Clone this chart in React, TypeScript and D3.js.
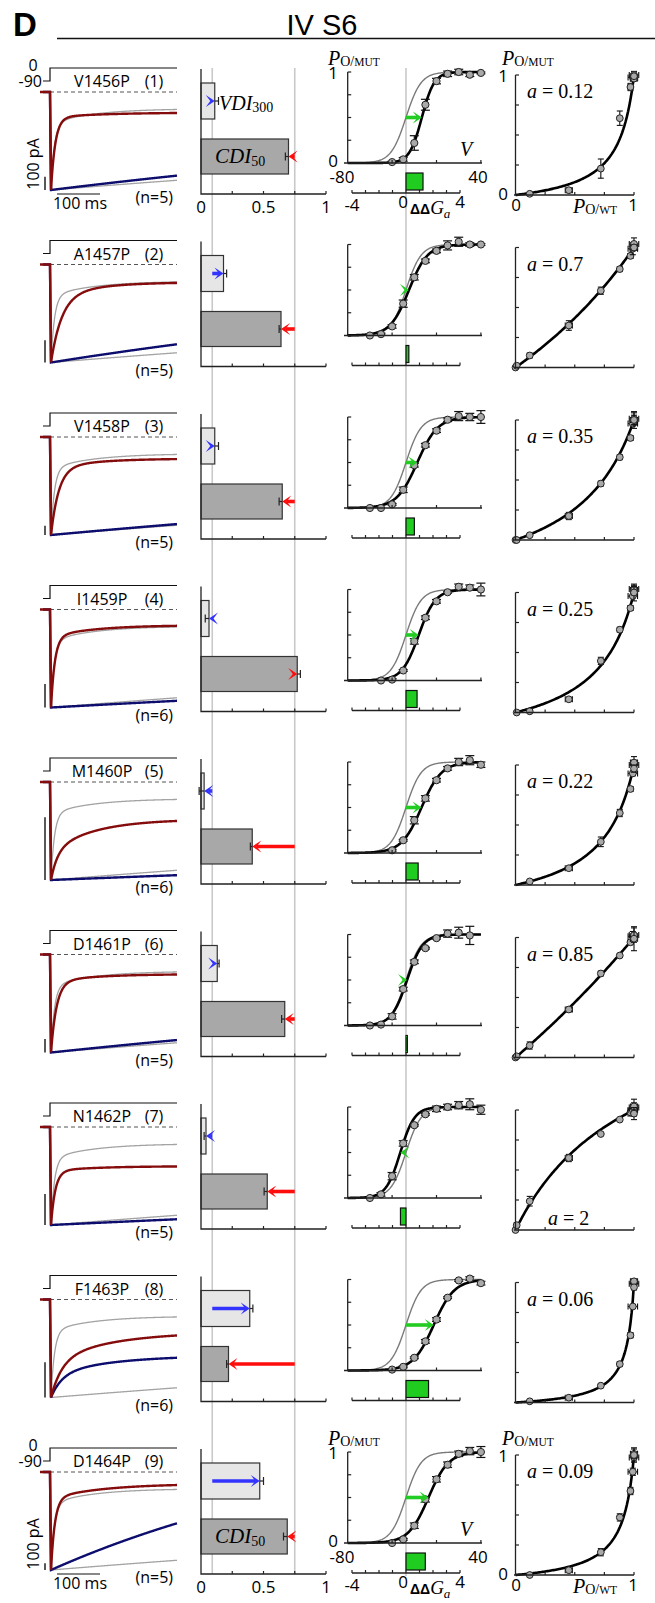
import React from "react";
import * as d3 from "d3";

const W = 655;
const H = 1603;
const ROW_TOP = 68;
const ROW_STEP = 172.5;

const SANS = "'Open Sans', 'Liberation Sans', sans-serif";
const SERIF = "'Liberation Serif', 'Times New Roman', serif";

// mutants of IV S6
const mutants = ["V1456P", "A1457P", "V1458P", "I1459P", "M1460P", "D1461P", "N1462P", "F1463P", "D1464P"];
const cellCounts = [5, 5, 5, 6, 6, 5, 5, 6, 5];
// 100 pA scale bar -> peak current of the shown traces (pA)
const peakPA = [735, 442, 1050, 416, 156, 730, 317, 278, 1470];

// inactivation, WT reference in gray lines
const vdi300 = [0.11, 0.18, 0.11, 0.064, 0.025, 0.13, 0.04, 0.39, 0.47];
const vdi300Err = [0.03, 0.025, 0.03, 0.03, 0.04, 0.015, 0.015, 0.025, 0.03];
const cdi50 = [0.7, 0.64, 0.65, 0.77, 0.41, 0.67, 0.53, 0.22, 0.69];
const cdi50Err = [0.025, 0.015, 0.025, 0.025, 0.015, 0.025, 0.025, 0.015, 0.03];
const vdiWT = 0.09;
const cdiWT = 0.75;

// normalized current kinetics [plateau, slow amp, tau fast (ms), tau slow (ms)]
const caKinetics = [
  [0.21, 0.05, 10, 120],
  [0.18, 0.15, 25, 100],
  [0.22, 0.1, 18, 100],
  [0.16, 0.12, 9, 100],
  [0.38, 0.33, 15, 100],
  [0.2, 0.08, 13, 100],
  [0.4, 0.05, 10, 100],
  [0.33, 0.3, 25, 140],
  [0.12, 0.15, 9, 120],
];
const baKinetics = [
  [0, 0, 1846, 100],
  [0, 0, 1423, 100],
  [0, 0, 2475, 100],
  [0, 0, 4134, 100],
  [0, 0, 5800, 100],
  [0, 0, 2154, 100],
  [0, 0, 4850, 100],
  [0.57, 0.2, 25, 140],
  [-0.5, 0, 766, 100],
];
const wtCaKinetics = [0.17, 0.15, 8, 100];
const wtBaKinetics = [0, 0, 2800, 100];

// activation
const voltages = [-60, -50, -40, -30, -20, -10, 0, 10, 20, 30, 40];
const poWT = [0, 0.01, 0.12, 0.45, 0.72, 0.88, 0.97, 0.99, 1.0, 1.0, 1.0];
const poWTErr = [0, 0.005, 0.01, 0.03, 0.01, 0.01, 0.02, 0.04, 0.04, 0.03, 0.02];
const wtHalf = -27.5;
const wtSlope = 6.8;

const poMut = [
  [null, null, 0.01, 0.04, 0.22, 0.64, 0.9, 0.98, 1.0, 0.97, 0.99],
  [0, 0.015, 0.1, 0.35, 0.64, 0.82, 0.93, 0.99, 1.03, 1.0, 1.0],
  [0, 0, 0.04, 0.2, 0.47, 0.69, 0.85, 0.97, 1.01, 1.0, 1.0],
  [null, 0, 0.01, 0.11, 0.43, 0.69, 0.87, 0.97, 1.03, 1.02, 1.0],
  [null, null, 0.03, 0.14, 0.36, 0.6, 0.8, 0.93, 1.0, 1.02, 0.97],
  [0, 0.01, 0.1, 0.4, 0.7, 0.85, 0.96, 1.01, 1.02, 0.99, null],
  [0, 0.04, 0.24, 0.6, 0.8, 0.92, 0.98, 1.0, 1.02, 1.03, 0.97],
  [null, null, 0.01, 0.04, 0.14, 0.32, 0.56, 0.8, 0.99, 1.01, 0.96],
  [null, null, 0, 0.04, 0.19, 0.48, 0.7, 0.86, 0.98, 1.01, 1.0],
];
const poMutErr = [
  [0, 0, 0.01, 0.02, 0.08, 0.06, 0.03, 0.03, 0.03, 0.02, 0.01],
  [0, 0.01, 0.02, 0.04, 0.03, 0.02, 0.02, 0.05, 0.05, 0.02, 0.01],
  [0, 0, 0.01, 0.03, 0.02, 0.02, 0.02, 0.02, 0.05, 0.04, 0.07],
  [0, 0, 0.01, 0.01, 0.03, 0.02, 0.02, 0.01, 0.03, 0.03, 0.07],
  [0, 0, 0.01, 0.01, 0.04, 0.03, 0.02, 0.02, 0.04, 0.05, 0.03],
  [0, 0, 0.03, 0.02, 0.02, 0.01, 0.01, 0.04, 0.06, 0.1, 0],
  [0, 0.02, 0.04, 0.03, 0.01, 0.01, 0.03, 0.03, 0.04, 0.06, 0.05],
  [0, 0, 0, 0.01, 0.01, 0.02, 0.02, 0.01, 0.01, 0.02, 0.02],
  [0, 0, 0, 0.01, 0.03, 0.03, 0.03, 0.03, 0.03, 0.04, 0.06],
];
const mutHalf = [-13.2, -24.8, -17.3, -16, -13.5, -26.5, -32.6, -2.5, -7.2];
const mutSlope = [5.6, 8.4, 9.2, 7.5, 9, 7, 6.4, 9.3, 9];
const ddGa = [1.26, 0.21, 0.62, 0.82, 0.9, 0.1, -0.41, 1.67, 1.43];
const aValues = [0.12, 0.7, 0.35, 0.25, 0.22, 0.85, 2, 0.06, 0.09];

// scales shared by all rows
const xTime = d3.scaleLinear().domain([0, 100]).range([51, 94]);
const xBar = d3.scaleLinear().domain([0, 1]).range([201, 326]);
const xV = d3.scaleLinear().domain([-80, 40]).range([347.7, 480.9]);
const xG = d3.scaleLinear().domain([-4, 4]).range([352, 460]);
const xS = d3.scaleLinear().domain([0, 1]).range([515.5, 634]);

const boltz = (v: number, half: number, k: number) => 1 / (1 + Math.exp((half - v) / k));
const kin = (k: number[], t: number) => k[0] + (1 - k[0] - k[1]) * Math.exp(-t / k[2]) + k[1] * Math.exp(-t / k[3]);

const tSamples = d3.range(0, 294, 1);
const vSamples = d3.range(-80, 40.01, 0.5);
const pSamples = d3.range(0, 1.0001, 0.01);

function tracePath(k: number[], base: number, amp: number, start: number) {
  const pts: [number, number][] = [[start, base], [50, base]];
  tSamples.forEach((t) => pts.push([xTime(t), base + amp * kin(k, t)]));
  return d3.line()(pts) as string;
}

function Arrow({ x0, x1, y, color, w = 3.6, head = 9, half = 6 }: any) {
  const dir = x1 >= x0 ? 1 : -1;
  const back = x1 - dir * head;
  const notch = x1 - dir * head * 0.5;
  const len = Math.abs(x1 - x0);
  return (
    <g>
      {len > head * 0.6 && <line x1={x0} x2={notch} y1={y} y2={y} stroke={color} strokeWidth={w} />}
      <path d={`M${x1},${y}L${back},${y - half}L${notch},${y}L${back},${y + half}Z`} fill={color} />
    </g>
  );
}

function PLabel({ x, y, sub, big = 20 }: any) {
  return (
    <text x={x} y={y} fontFamily={SERIF}>
      <tspan fontStyle="italic" fontSize={big}>P</tspan>
      <tspan fontSize={14} dy={1}>O/</tspan>
      <tspan fontSize={11.5}>{sub}</tspan>
    </text>
  );
}

function Row({ i }: { i: number }) {
  const T = ROW_TOP + ROW_STEP * i;
  const first = i === 0;
  const last = i === mutants.length - 1;
  const labelled = first || last;

  // ---- current traces ----
  const base = T + 24;
  const amp = 98;
  const barLen = (100 / peakPA[i]) * amp;

  // ---- bar chart ----
  const barAxisBottom = T + 126;
  const vdiY = [T + 15, T + 51];
  const cdiY = [T + 71, T + 106];

  const errBar = (v: number, e: number, wt: number, y: number) => {
    const d = v >= wt ? 1 : -1;
    const end = xBar(v + d * e);
    return (
      <g stroke="#222" strokeWidth={1.2}>
        <line x1={xBar(v)} x2={end} y1={y} y2={y} />
        <line x1={end} x2={end} y1={y - 4} y2={y + 4} />
      </g>
    );
  };

  // ---- activation ----
  const yA = d3.scaleLinear().domain([0, 1]).range([T + 95, T + 4]);
  const wtCurve = d3.line<number>().x((v) => xV(v)).y((v) => yA(boltz(v, wtHalf, wtSlope)))(vSamples) as string;
  const mutCurve = d3.line<number>().x((v) => xV(v)).y((v) => yA(boltz(v, mutHalf[i], mutSlope[i])))(vSamples) as string;

  // ---- P_O,MUT vs P_O,WT ----
  const yS = d3.scaleLinear().domain([0, 1]).range([T + 127, T + 7]);
  const a = aValues[i];
  const relCurve = d3.line<number>().x((p) => xS(p)).y((p) => yS((a * p) / (1 - p + a * p)))(pSamples) as string;

  const ddY = T + 125;

  return (
    <g>
      {/* step protocol */}
      <path d={`M43,${T + 13}H50V${T}H177`} fill="none" stroke="#111" strokeWidth={1.2} />
      <text x={102} y={T + 19} fontSize={16} textAnchor="middle" fontFamily={SANS}>{mutants[i]}</text>
      <text x={154} y={T + 19} fontSize={16} textAnchor="middle" fontFamily={SANS}>({i + 1})</text>
      <line x1={50} x2={177} y1={base} y2={base} stroke="#555" strokeWidth={1} strokeDasharray="4,3" />
      <path d={tracePath(wtBaKinetics, base, amp, 50)} fill="none" stroke="#a3a3a3" strokeWidth={1.3} />
      <path d={tracePath(wtCaKinetics, base, amp, 50)} fill="none" stroke="#a3a3a3" strokeWidth={1.3} />
      <path d={tracePath(baKinetics[i], base, amp, 43)} fill="none" stroke="#0d0d6e" strokeWidth={2.4} />
      <path d={tracePath(caKinetics[i], base, amp, 40)} fill="none" stroke="#850c0c" strokeWidth={2.4} />
      <line x1={45} x2={45} y1={base + amp} y2={base + amp - barLen} stroke="#111" strokeWidth={1.4} />
      <text x={173} y={T + 135} fontSize={16} textAnchor="end" fontFamily={SANS}>(n={cellCounts[i]})</text>
      {labelled && (
        <g fontFamily={SANS} fontSize={16}>
          <text x={33} y={T + 3} textAnchor="middle">0</text>
          <text x={42} y={T + 19} textAnchor="end">-90</text>
          <text x={0} y={0} textAnchor="middle" transform={`translate(39,${T + 96}) rotate(-90)`}>100 pA</text>
          <line x1={57} x2={57 + xTime(100) - xTime(0)} y1={T + 126} y2={T + 126} stroke="#111" strokeWidth={1.2} />
          <text x={80} y={T + 141} textAnchor="middle">100 ms</text>
        </g>
      )}

      {/* VDI / CDI bars */}
      <rect x={xBar(0)} y={vdiY[0]} width={xBar(vdi300[i]) - xBar(0)} height={vdiY[1] - vdiY[0]} fill="#e6e6e6" stroke="#333" strokeWidth={1.2} />
      <rect x={xBar(0)} y={cdiY[0]} width={xBar(cdi50[i]) - xBar(0)} height={cdiY[1] - cdiY[0]} fill="#a8a8a8" stroke="#333" strokeWidth={1.2} />
      {errBar(vdi300[i], vdi300Err[i], vdiWT, (vdiY[0] + vdiY[1]) / 2)}
      {errBar(cdi50[i], cdi50Err[i], cdiWT, (cdiY[0] + cdiY[1]) / 2)}
      <Arrow x0={xBar(vdiWT)} x1={xBar(vdi300[i])} y={(vdiY[0] + vdiY[1]) / 2} color="#3333ff" />
      <Arrow x0={xBar(cdiWT)} x1={xBar(cdi50[i])} y={(cdiY[0] + cdiY[1]) / 2} color="#ff0d0d" />
      <path d={`M${xBar(0)},${T + 1}V${barAxisBottom}H${xBar(1)}`} fill="none" stroke="#222" strokeWidth={1.3} />
      {[0.25, 0.5, 0.75, 1].map((v) => (
        <line key={v} x1={xBar(v)} x2={xBar(v)} y1={barAxisBottom} y2={barAxisBottom - 3} stroke="#222" strokeWidth={1.2} />
      ))}
      {labelled && (
        <g fontFamily={SANS} fontSize={17} textAnchor="middle">
          {[0, 0.5, 1].map((v) => (
            <text key={v} x={xBar(v)} y={T + 145}>{v}</text>
          ))}
        </g>
      )}
      {first && (
        <text x={219} y={T + 42} fontFamily={SERIF}>
          <tspan fontStyle="italic" fontSize={20}>VDI</tspan>
          <tspan fontSize={14} dy={2}>300</tspan>
        </text>
      )}
      {labelled && (
        <text x={215} y={T + 95} fontFamily={SERIF}>
          <tspan fontStyle="italic" fontSize={21}>CDI</tspan>
          <tspan fontSize={14} dy={3}>50</tspan>
        </text>
      )}

      {/* activation curve */}
      <path d={wtCurve} fill="none" stroke="#7a7a7a" strokeWidth={1.4} />
      <path d={mutCurve} fill="none" stroke="#000" strokeWidth={2.6} />
      {voltages.map((v, j) => {
        const p = poMut[i][j];
        if (p === null) return null;
        const e = poMutErr[i][j];
        const cx = xV(v);
        return (
          <g key={v}>
            {e > 0.005 && (
              <g stroke="#111" strokeWidth={1.2}>
                <line x1={cx} x2={cx} y1={yA(p - e)} y2={yA(p + e)} />
                <line x1={cx - 4.5} x2={cx + 4.5} y1={yA(p - e)} y2={yA(p - e)} />
                <line x1={cx - 4.5} x2={cx + 4.5} y1={yA(p + e)} y2={yA(p + e)} />
              </g>
            )}
            <circle cx={cx} cy={yA(p)} r={3.6} fill="#a9a9a9" stroke="#222" strokeWidth={1} />
          </g>
        );
      })}
      <Arrow x0={xV(wtHalf)} x1={xV(mutHalf[i])} y={yA(0.5)} color="#22cc22" />
      <path d={`M${xV(-80)},${yA(1)}V${yA(0)}M344,${yA(0)}H482`} fill="none" stroke="#222" strokeWidth={1.3} />
      {[0.25, 0.5, 0.75, 1].map((p) => (
        <line key={p} x1={xV(-80)} x2={xV(-80) + 3.5} y1={yA(p)} y2={yA(p)} stroke="#222" strokeWidth={1.2} />
      ))}
      {[-40, 0, 40].map((v) => (
        <line key={v} x1={xV(v)} x2={xV(v)} y1={yA(0)} y2={yA(0) - 3} stroke="#222" strokeWidth={1.2} />
      ))}
      {/* ddGa */}
      <rect x={Math.min(xG(0), xG(ddGa[i]))} y={T + 105} width={Math.abs(xG(ddGa[i]) - xG(0))} height={17} fill="#1fcc1f" stroke="#111" strokeWidth={1.2} />
      <line x1={xG(-4)} x2={xG(4)} y1={ddY} y2={ddY} stroke="#222" strokeWidth={1.3} />
      {d3.range(-4, 5).map((g) => (
        <line key={g} x1={xG(g)} x2={xG(g)} y1={ddY} y2={ddY - 3} stroke="#222" strokeWidth={1.2} />
      ))}
      {labelled && (
        <g fontFamily={SANS} fontSize={17}>
          <PLabel x={328} y={T - 3} sub="MUT" />
          <text x={338} y={T + 11} textAnchor="end">1</text>
          <text x={338} y={T + 99} textAnchor="end">0</text>
          <text x={342} y={T + 115} textAnchor="middle">-80</text>
          <text x={478} y={T + 115} textAnchor="middle">40</text>
          <text x={466} y={T + 88} fontFamily={SERIF} fontStyle="italic" fontSize={20} textAnchor="middle">V</text>
          <text x={xG(-4)} y={T + 143} textAnchor="middle">-4</text>
          <text x={xG(0) - 3} y={T + 140} textAnchor="middle">0</text>
          <text x={xG(4)} y={T + 140} textAnchor="middle">4</text>
          <text x={410} y={T + 146}>
            <tspan fontWeight="bold" fontSize={14} fontFamily="'Liberation Sans', sans-serif">ΔΔ</tspan>
            <tspan fontFamily={SERIF} fontStyle="italic" fontSize={19}>G</tspan>
            <tspan fontFamily={SERIF} fontStyle="italic" fontSize={13} dy={4}>a</tspan>
          </text>
        </g>
      )}

      {/* P_O,MUT vs P_O,WT */}
      <path d={relCurve} fill="none" stroke="#000" strokeWidth={2.6} />
      {voltages.map((v, j) => {
        const p = poMut[i][j];
        if (p === null) return null;
        const ey = poMutErr[i][j];
        const ex = poWTErr[j];
        const cx = xS(poWT[j]);
        const cy = yS(p);
        return (
          <g key={v}>
            <g stroke="#111" strokeWidth={1.1}>
              {ey > 0.005 && (
                <>
                  <line x1={cx} x2={cx} y1={yS(p - ey)} y2={yS(p + ey)} />
                  <line x1={cx - 3} x2={cx + 3} y1={yS(p - ey)} y2={yS(p - ey)} />
                  <line x1={cx - 3} x2={cx + 3} y1={yS(p + ey)} y2={yS(p + ey)} />
                </>
              )}
              {ex > 0.005 && (
                <>
                  <line x1={xS(poWT[j] - ex)} x2={xS(poWT[j] + ex)} y1={cy} y2={cy} />
                  <line x1={xS(poWT[j] - ex)} x2={xS(poWT[j] - ex)} y1={cy - 3} y2={cy + 3} />
                  <line x1={xS(poWT[j] + ex)} x2={xS(poWT[j] + ex)} y1={cy - 3} y2={cy + 3} />
                </>
              )}
            </g>
            <circle cx={cx} cy={cy} r={3.4} fill="#a9a9a9" stroke="#222" strokeWidth={1} />
          </g>
        );
      })}
      <path d={`M${xS(0)},${yS(1)}V${yS(0)}M514,${yS(0)}H634`} fill="none" stroke="#222" strokeWidth={1.3} />
      {[0.25, 0.5, 0.75, 1].map((p) => (
        <g key={p} stroke="#222" strokeWidth={1.2}>
          <line x1={xS(0)} x2={xS(0) + 3.5} y1={yS(p)} y2={yS(p)} />
          <line x1={xS(p)} x2={xS(p)} y1={yS(0)} y2={yS(0) - 3} />
        </g>
      ))}
      <text x={a > 1 ? 548 : 527} y={a > 1 ? T + 122 : T + 30} fontFamily={SERIF} fontSize={20}>
        <tspan fontStyle="italic">a</tspan> = {a}
      </text>
      {labelled && (
        <g fontFamily={SANS} fontSize={17}>
          <PLabel x={502} y={T - 3} sub="MUT" />
          <text x={508} y={T + 14} textAnchor="end">1</text>
          <text x={508} y={T + 132} textAnchor="end">0</text>
          <text x={516} y={T + 143} textAnchor="middle">0</text>
          <PLabel x={573} y={T + 145} sub="WT" />
          <text x={633} y={T + 143} textAnchor="middle">1</text>
        </g>
      )}
    </g>
  );
}

export default function App() {
  const lastT = ROW_TOP + ROW_STEP * (mutants.length - 1);
  return (
    <svg width={W} height={H} style={{ position: "absolute", left: 0, top: 0, background: "#fff" }}>
      <text x={13} y={36} fontFamily="'Liberation Sans', Arial, sans-serif" fontWeight="bold" fontSize={33}>D</text>
      <text x={322} y={35} fontFamily="'Liberation Sans', Arial, sans-serif" fontSize={29} textAnchor="middle">IV S6</text>
      <line x1={57} x2={655} y1={38.5} y2={38.5} stroke="#111" strokeWidth={1.3} />
      {/* WT reference lines */}
      <g stroke="#c9c9c9" strokeWidth={1.6}>
        <line x1={xBar(vdiWT)} x2={xBar(vdiWT)} y1={ROW_TOP} y2={lastT + 126} />
        <line x1={xBar(cdiWT)} x2={xBar(cdiWT)} y1={ROW_TOP} y2={lastT + 126} />
        <line x1={xV(wtHalf)} x2={xV(wtHalf)} y1={ROW_TOP} y2={lastT + 128} />
      </g>
      {mutants.map((m, i) => (
        <Row key={m} i={i} />
      ))}
    </svg>
  );
}
